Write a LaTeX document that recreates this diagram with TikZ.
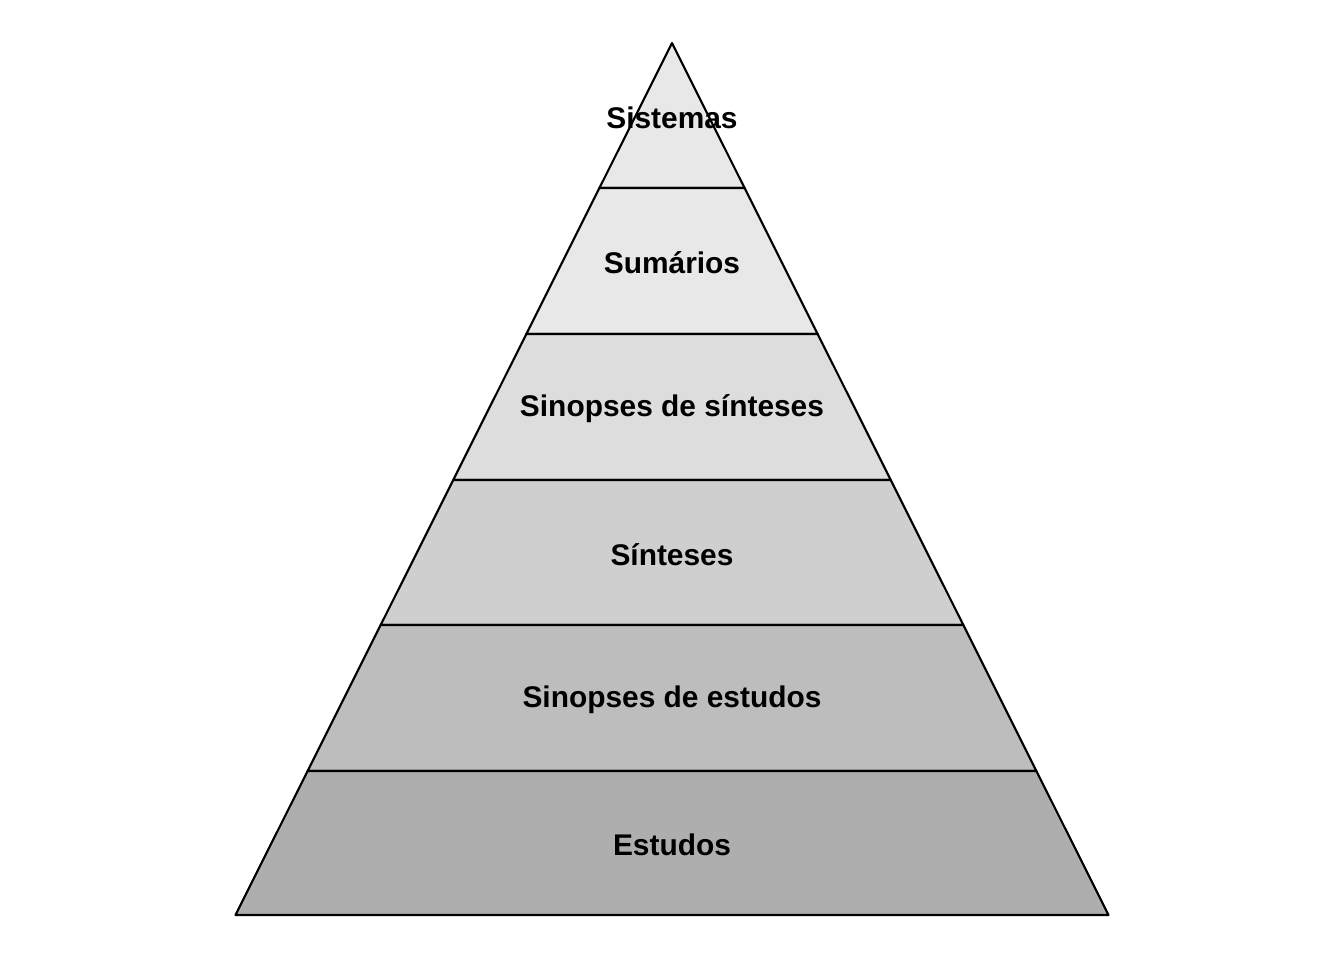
\documentclass[tikz,border=0pt]{standalone}
\usepackage{fontspec}
\setmainfont{Liberation Sans}
\begin{document}
\begin{tikzpicture}
  [x=0.01cm,y=-0.01cm,
   levelL/.style={font=\bfseries\fontsize{8.5}{10}\selectfont},
   bandB/.style={draw,line width=0.6pt,line join=round}]
 \useasboundingbox (0,0) rectangle (1344,960);
 % apex and base
 \coordinate (apex) at (672,43);
 \foreach \top/\bot/\col/\txt/\n in {
     43/188/E8E8E8/Sistemas/a,
     188/334/E8E8E8/Sumários/b,
     334/480/DDDDDD/Sinopses de sínteses/c,
     480/625/CFCFCF/Sínteses/d,
     625/771/BDBDBD/Sinopses de estudos/e,
     771/915/AEAEAE/Estudos/f} {
   \definecolor{bandC}{HTML}{\col}
   \pgfmathsetmacro{\wt}{(\top-43)/872*436.5}
   \pgfmathsetmacro{\wb}{(\bot-43)/872*436.5}
   \draw[bandB,fill=bandC] (672-\wt,\top) -- (672+\wt,\top) -- (672+\wb,\bot) -- (672-\wb,\bot) -- cycle;
   \node[levelL] (\n) at (672,{(\top+\bot)/2+2}) {\txt};
 }
\end{tikzpicture}
\end{document}
